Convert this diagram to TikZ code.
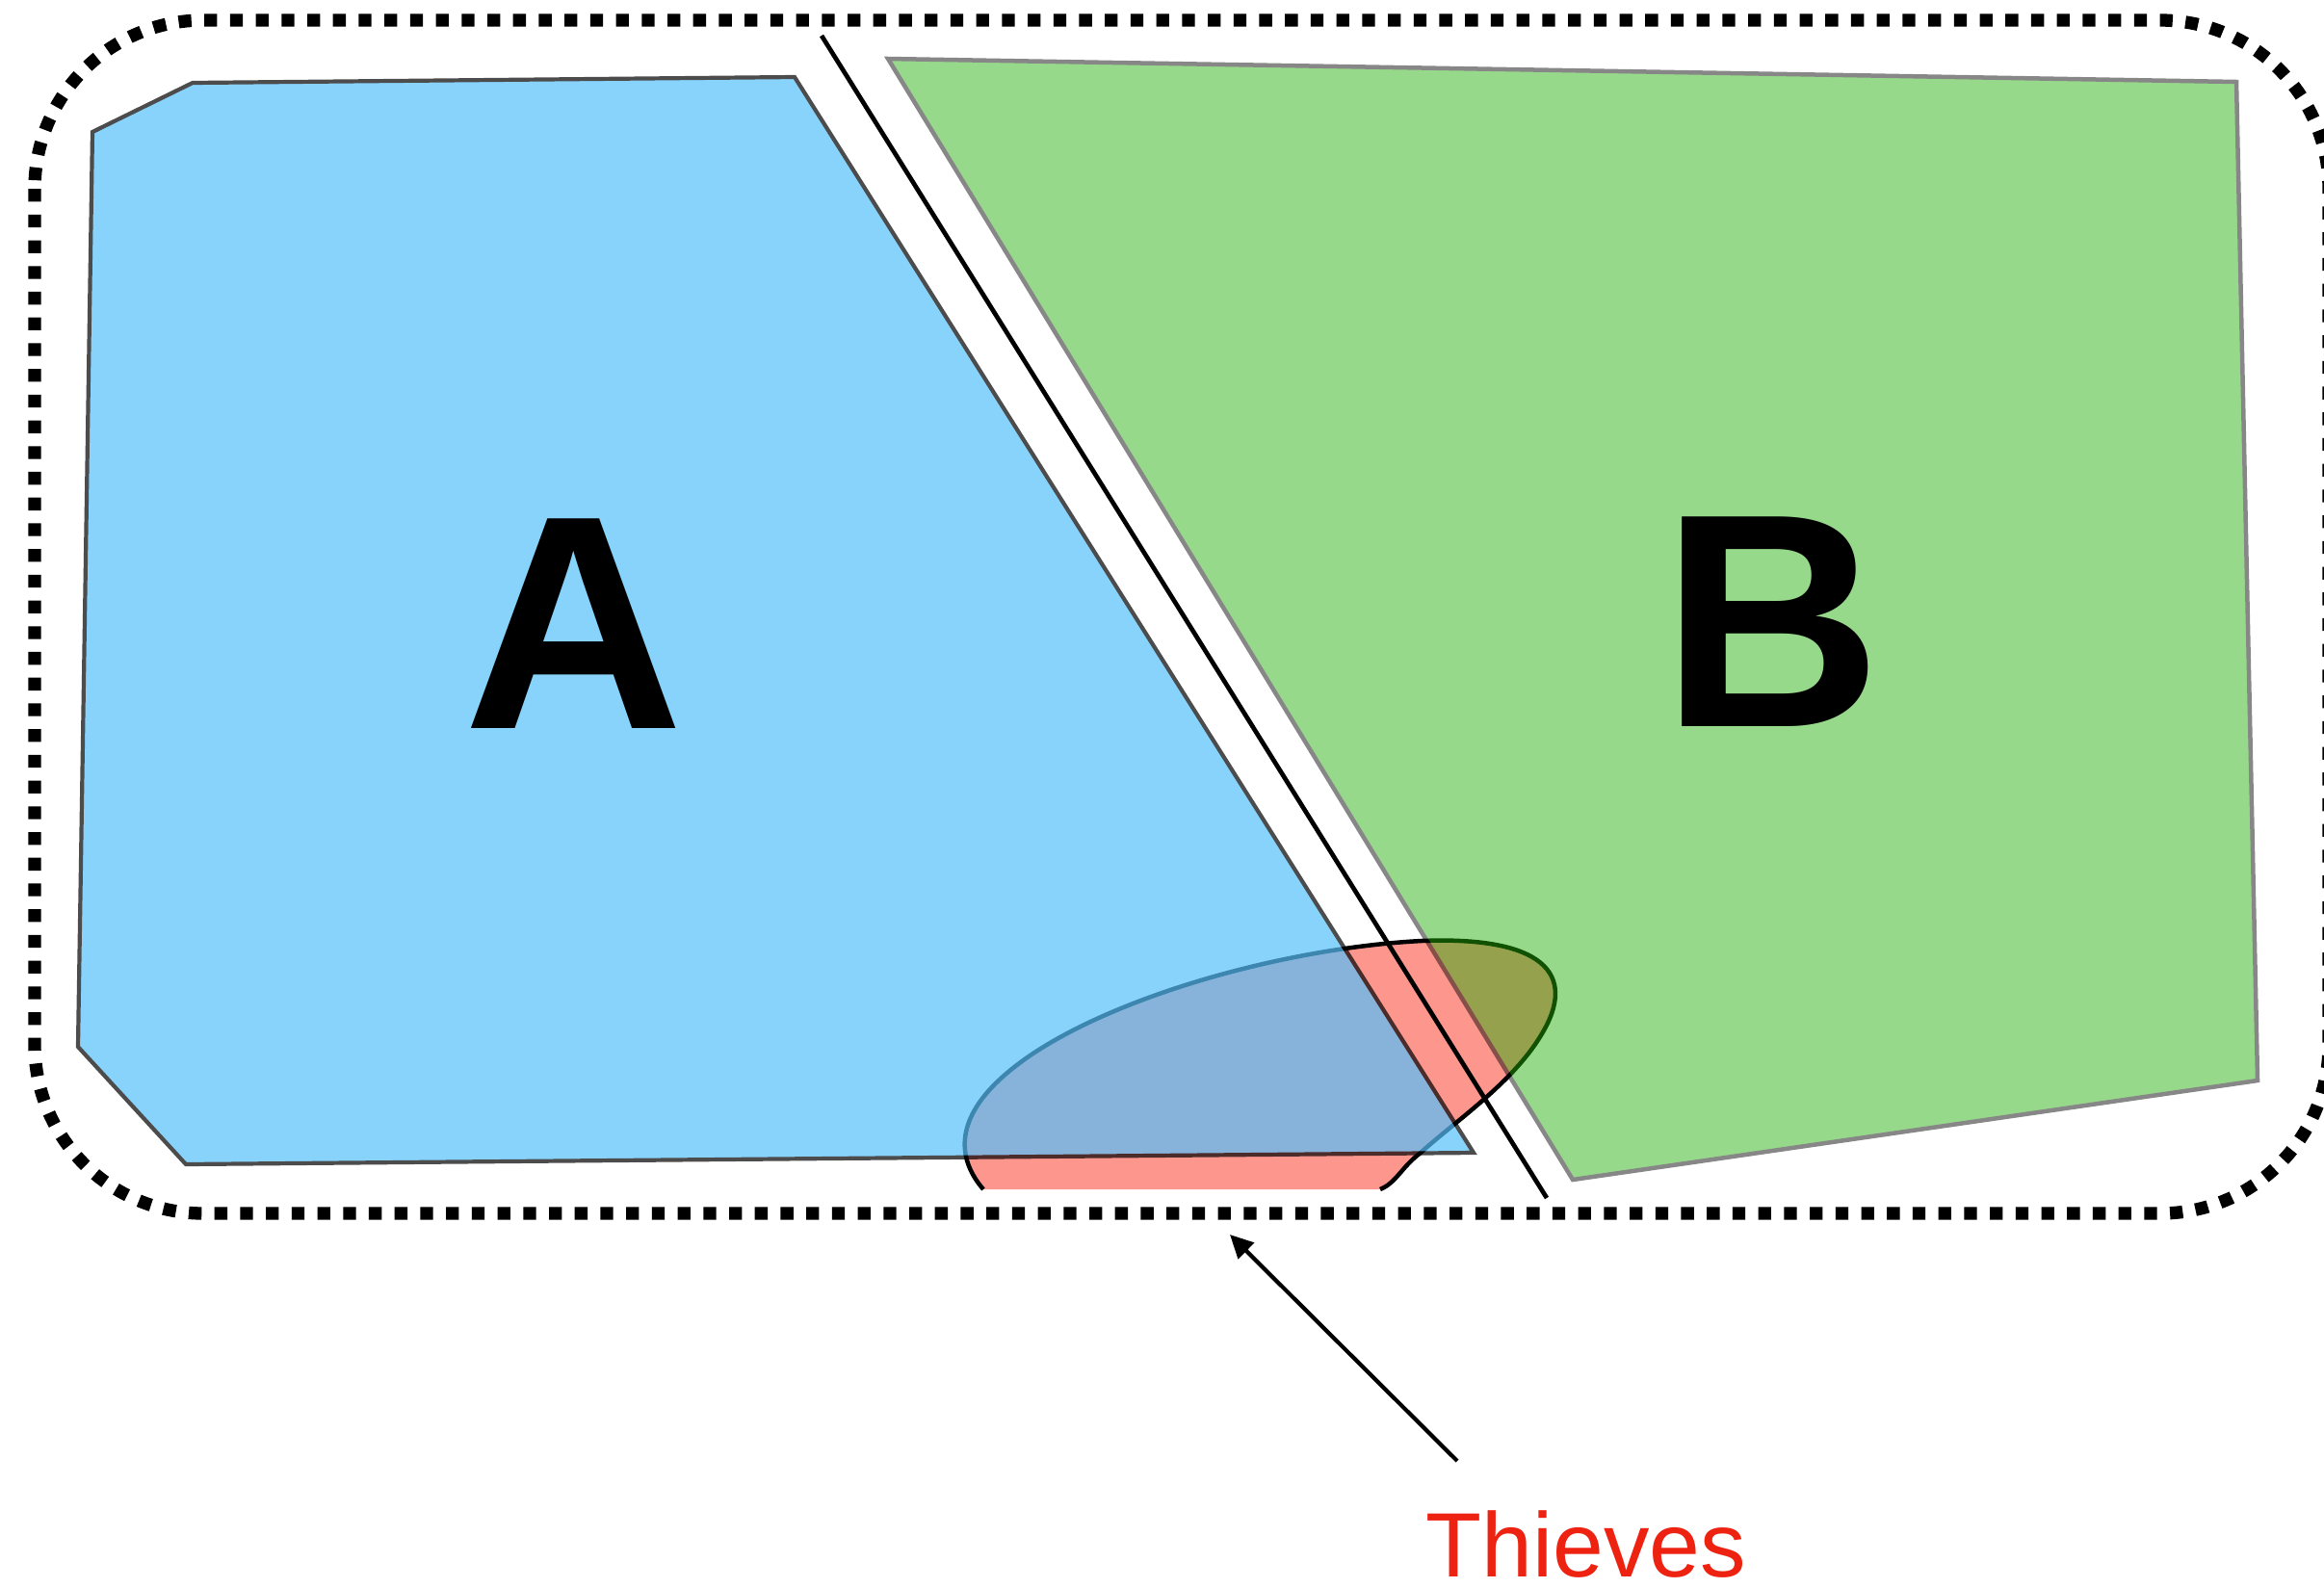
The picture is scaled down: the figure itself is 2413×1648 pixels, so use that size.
\documentclass[tikz,border=0pt]{standalone}
\usepackage{fontspec}
\setmainfont{Liberation Sans}
\usetikzlibrary{arrows.meta}
\definecolor{regionA}{RGB}{86,192,251}
\definecolor{regionB}{RGB}{34,174,6}
\definecolor{overlap}{RGB}{253,150,141}
\definecolor{thiefred}{RGB}{238,34,17}
\begin{document}
\begin{tikzpicture}[x=0.01cm, y=-0.01cm,
  frame/.style={line width=0.133cm, dash pattern=on 0.133cm off 0.134cm, rounded corners=1.75cm},
  outline/.style={line width=0.045cm, line join=miter},
  biglabel/.style={font=\bfseries\fontsize{90}{90}\selectfont, inner sep=0pt},
  pointer/.style={line width=0.042cm, -{Triangle[length=0.24cm, width=0.23cm]}}]
\useasboundingbox (0,0) rectangle (2413,1648);

% dotted enclosure
\draw[frame] (36,21) rectangle (2418,1260);

% shared zone of the thieves, lying below both regions
\fill[overlap] (1021,1235) .. controls (995,1205) and (990,1165) .. (1039,1120)
  .. controls (1120,1045) and (1320,985) .. (1476,977)
  .. controls (1600,972) and (1640,1010) .. (1600,1075)
  .. controls (1570,1125) and (1510,1165) .. (1475,1197)
  .. controls (1455,1212) and (1450,1228) .. (1433,1235) -- cycle;
\draw[outline] (1021,1235) .. controls (995,1205) and (990,1165) .. (1039,1120)
  .. controls (1120,1045) and (1320,985) .. (1476,977)
  .. controls (1600,972) and (1640,1010) .. (1600,1075)
  .. controls (1570,1125) and (1510,1165) .. (1475,1197)
  .. controls (1455,1212) and (1450,1228) .. (1433,1235);

% region A
\begin{scope}[transparency group, opacity=0.7]
  \draw[outline, line width=0.042cm, fill=regionA] (96,137) -- (200,86) -- (825,80) -- (1530,1197)
    -- (193,1209) -- (81,1087) -- cycle;
\end{scope}

% region B
\begin{scope}[transparency group, opacity=0.47]
  \draw[outline, fill=regionB] (922,61) -- (2322,85)
    -- (2344,1122) -- (1633,1225) -- cycle;
\end{scope}

% border between the two regions
\draw[line width=0.047cm] (853,37) -- (1606,1244);

% labels
\node[biglabel] (labelA) at (595.5,648) {A};
\node[biglabel] (labelB) at (1840,646) {B};
\node[font=\fontsize{27}{30}\selectfont, text=thiefred, anchor=base west, inner sep=0pt]
  (thieves) at (1480,1637) {Thieves};

% pointer to the shared zone
\coordinate (pointtail) at (1513,1517);
\coordinate (pointtip) at (1277,1282);
\draw[pointer] (pointtail) -- (pointtip);
\end{tikzpicture}
\end{document}
